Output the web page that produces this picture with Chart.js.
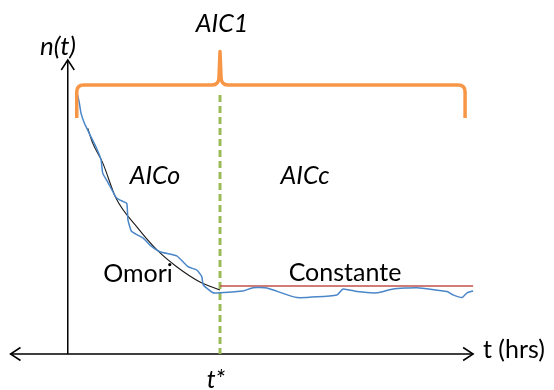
<!DOCTYPE html>
<html>
<head>
<meta charset="utf-8">
<script src="https://cdn.jsdelivr.net/npm/chart.js@4/dist/chart.umd.min.js"></script>
<style>
  html, body { margin: 0; padding: 0; background: #ffffff; }
  #wrap { width: 554px; height: 390px; position: relative; }
</style>
</head>
<body>
<div id="wrap"><canvas id="c"></canvas></div>
<script>
// Observed event rate n(t) against time (hours)
const observedT = [0.65, 0.76, 0.87, 1.09, 1.40, 1.86, 2.19, 2.30, 2.63, 3.17, 3.44, 3.88, 3.96, 4.21, 4.95, 5.41, 6.07, 7.17, 7.91, 8.49, 8.82, 8.92, 9.56, 10.02, 11.53, 12.19, 13.11, 15.09, 17.72, 18.12, 19.04, 20.35, 21.41, 22.99, 24.96, 25.36, 25.95, 26.28, 26.68];
const observedN = [86.3, 83.7, 80.3, 77.0, 73.7, 69.0, 64.7, 60.3, 57.3, 52.3, 51.3, 50.2, 44.7, 40.8, 38.7, 36.3, 34.1, 32.7, 29.1, 28.0, 25.8, 23.0, 20.4, 20.4, 21.0, 22.1, 22.0, 18.8, 19.7, 21.7, 20.8, 20.4, 21.7, 22.1, 20.8, 19.7, 18.8, 20.4, 21.0];

// Omori decay fitted before the change point
const omoriT = [1.31, 1.64, 2.30, 3.17, 4.56, 5.87, 7.19, 8.70, 10.02];
const omoriN = [75.3, 70.3, 63.7, 52.0, 42.3, 34.7, 29.0, 24.0, 21.3];

// Constant rate fitted after the change point
const constT = [10.02, 26.68];
const constN = [22.7, 22.7];

// Change point t*
const tStar = 10.02;
const tStarSpan = [86.3, 0];

// Brace spanning the whole record (AIC1)
const braceX = [0.59, 26.15];
const braceN = { end: 78.7, bar: 89.7, tip: 100.8 };

// Axis extents
const axisT = [-3.77, 26.68];
const axisN = [0, 98];

const pts = (xs, ys) => xs.map((x, i) => ({ x: x, y: ys[i] }));

const FONT = 'Lato, "Open Sans", sans-serif';

function chevron(ctx, tipX, tipY, dx, dy) {
  // dx,dy: unit direction of the arrow
  const len = 10, half = 6.5;
  const bx = tipX - dx * len, by = tipY - dy * len;
  const px = -dy, py = dx;
  ctx.beginPath();
  ctx.moveTo(bx + px * half, by + py * half);
  ctx.lineTo(tipX, tipY);
  ctx.lineTo(bx - px * half, by - py * half);
  ctx.stroke();
}

const diagram = {
  id: 'diagram',
  beforeDatasetsDraw(chart) {
    const { ctx, scales: { x, y } } = chart;
    ctx.save();
    // axes
    ctx.strokeStyle = '#000';
    ctx.lineWidth = 1.5;
    ctx.lineCap = 'butt';
    const x0 = x.getPixelForValue(axisT[0]);
    const x1 = x.getPixelForValue(axisT[1]);
    const yAxisX = x.getPixelForValue(0);
    const yBase = y.getPixelForValue(axisN[0]);
    const yTop = y.getPixelForValue(axisN[1]);
    ctx.beginPath();
    ctx.moveTo(x0, yBase); ctx.lineTo(x1, yBase);
    ctx.moveTo(yAxisX, yBase); ctx.lineTo(yAxisX, yTop);
    ctx.stroke();
    chevron(ctx, x0, yBase, -1, 0);
    chevron(ctx, x1, yBase, 1, 0);
    chevron(ctx, yAxisX, yTop, 0, -1);
    ctx.restore();
  },
  afterDatasetsDraw(chart) {
    const { ctx, scales: { x, y } } = chart;
    ctx.save();
    // brace
    const L = x.getPixelForValue(braceX[0]);
    const R = x.getPixelForValue(braceX[1]);
    const M = x.getPixelForValue(tStar);
    const yEnd = y.getPixelForValue(braceN.end);
    const yBar = y.getPixelForValue(braceN.bar);
    const yTip = y.getPixelForValue(braceN.tip);
    const r = 7;
    ctx.strokeStyle = '#F79646';
    ctx.lineWidth = 3.5;
    ctx.lineJoin = 'round';
    ctx.lineCap = 'butt';
    ctx.beginPath();
    ctx.moveTo(L, yEnd);
    ctx.lineTo(L, yBar + r);
    ctx.quadraticCurveTo(L, yBar, L + r, yBar);
    ctx.lineTo(M - 8, yBar);
    ctx.quadraticCurveTo(M - 1, yBar, M - 1, yBar - 8);
    ctx.lineTo(M, yTip);
    ctx.lineTo(M + 1, yBar - 8);
    ctx.quadraticCurveTo(M + 1, yBar, M + 8, yBar);
    ctx.lineTo(R - r, yBar);
    ctx.quadraticCurveTo(R, yBar, R, yBar + r);
    ctx.lineTo(R, yEnd);
    ctx.stroke();

    // text
    ctx.fillStyle = '#000';
    ctx.textBaseline = 'middle';
    const put = (t, px, py, italic, size, align) => {
      ctx.font = (italic ? 'italic ' : '') + size + 'px ' + FONT;
      ctx.textAlign = align || 'center';
      ctx.fillText(t, px, py);
    };
    put('n(t)', 58, 47, true, 26);
    put('AIC1', 222, 24, true, 25);
    put('AICo', 155, 176, true, 25);
    put('AICc', 305, 176, true, 25);
    put('Omori', 138, 274, false, 25);
    put('Constante', 345, 273, false, 25);
    put('t (hrs)', 483, 350, false, 25, 'left');
    put('t*', 216, 380, true, 25);
    ctx.restore();
  }
};

new Chart(document.getElementById('c'), {
  type: 'line',
  data: {
    datasets: [
      {
        label: 'Observed',
        data: pts(observedT, observedN),
        borderColor: '#4A86C8',
        borderWidth: 1.5,
        pointRadius: 0,
        tension: 0.15
      },
      {
        label: 'Omori',
        data: pts(omoriT, omoriN),
        borderColor: '#1a1a1a',
        borderWidth: 1.1,
        pointRadius: 0,
        tension: 0.4,
        cubicInterpolationMode: 'monotone'
      },
      {
        label: 'Constante',
        data: pts(constT, constN),
        borderColor: '#C0504D',
        borderWidth: 1.5,
        pointRadius: 0
      },
      {
        label: 't*',
        data: [{ x: tStar, y: tStarSpan[0] }, { x: tStar, y: tStarSpan[1] }],
        borderColor: '#9BBB59',
        borderWidth: 3,
        borderDash: [7, 4],
        pointRadius: 0
      }
    ]
  },
  options: {
    responsive: true,
    maintainAspectRatio: false,
    animation: false,
    events: [],
    layout: { padding: { left: 7, right: 76, top: 39, bottom: 36 } },
    scales: {
      x: { type: 'linear', min: -4, max: 27, display: false },
      y: { type: 'linear', min: 0, max: 105, display: false }
    },
    plugins: { legend: { display: false }, tooltip: { enabled: false } }
  },
  plugins: [diagram]
});
</script>
</body>
</html>
